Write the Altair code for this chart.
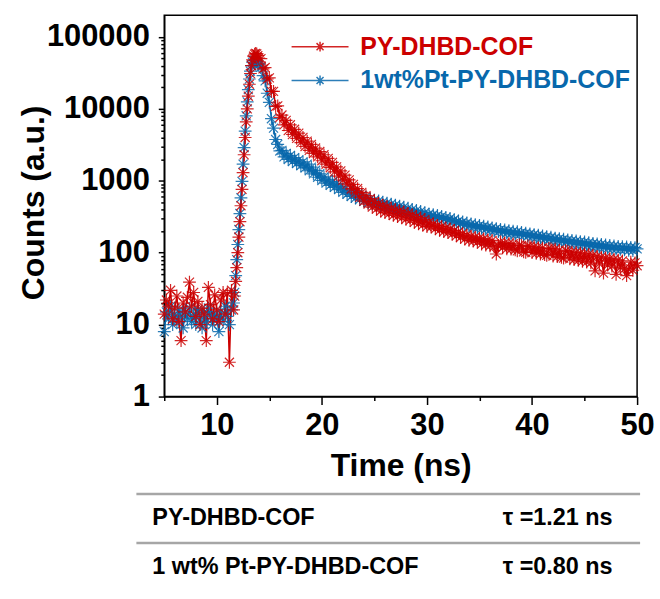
import altair as alt
import numpy as np
import pandas as pd

FONT = "Liberation Sans"
RED = "#CC0000"
BLUE = "#0868AC"

series_names = ["PY-DHBD-COF", "1wt%Pt-PY-DHBD-COF"]

# time grid (ns)
t_a = np.round(np.arange(5.0, 11.61, 0.2), 1)
t_b = np.round(np.arange(11.7, 14.01, 0.1), 1)
t_c = np.round(np.arange(14.2, 50.01, 0.2), 1)
time_ns = np.concatenate([t_a, t_b, t_c])

red_counts = [
    14, 22, 18, 30, 12, 17, 25, 11, 6, 20, 15, 24, 39, 18, 28, 13, 21, 10, 17, 14,
    6, 33, 19, 12, 26, 16, 11, 22, 28, 14, 27, 3, 30, 16,
    25, 40, 62, 100, 165, 270, 450, 760, 1300, 2300, 4000, 6600, 10000, 15000,
    22000, 31000, 40000, 48000, 54000, 57500, 59000, 58000, 55000, 51000,
    50000, 36000, 37500, 26000, 27000, 17500, 17500, 10800, 11000, 7600,
    8200, 6000, 6900, 5000, 6000, 4400, 5200, 3900, 4600, 3400,
    4000, 3000, 3550, 2650, 3200, 2400, 2850, 2150, 2550, 1900,
    2300, 1700, 2050, 1520, 1800, 1330, 1560, 1160, 1370, 1020,
    1200, 900, 1030, 770, 890, 680, 780, 590, 690, 520,
    620, 475, 565, 430, 515, 405, 485, 380, 455, 360,
    440, 350, 415, 330, 400, 318, 385, 305, 368, 292,
    352, 282, 338, 265, 318, 252, 305, 242, 290, 230,
    265, 228, 252, 215, 240, 205, 232, 196, 222, 190,
    215, 182, 204, 172, 193, 163, 184, 155, 176, 148,
    170, 145, 165, 140, 160, 132, 156, 128, 151, 125,
    148, 122, 96, 125, 141, 118, 137, 113, 134, 112,
    133, 110, 106, 128, 126, 103, 101, 124, 122, 100,
    121, 98, 118, 96, 117, 94, 92, 115, 113, 90,
    112, 88, 109, 86, 84, 107, 104, 82, 102, 80,
    101, 78, 99, 76, 97, 74, 95, 72, 92, 56,
    89, 70, 87, 52, 85, 67, 83, 65, 81, 50,
    79, 62, 77, 60, 48, 59, 74, 57, 72, 66,
]

blue_counts = [
    8, 15, 12, 18, 10, 14, 11, 16, 13, 9, 15, 12, 17, 11, 14, 10, 16, 12, 9, 15,
    11, 17, 13, 10, 14, 12, 8, 15, 11, 18, 13, 10, 16, 20,
    28, 48, 80, 130, 210, 350, 580, 980, 1700, 2900, 4900, 8000, 12500, 18500,
    26000, 33500, 40000, 44500, 47000, 47500, 46500, 45000, 43000, 41000,
    38000, 29000, 24500, 16500, 12300, 7300, 5400, 3750, 3200, 2600,
    2650, 2150, 2400, 1980, 2250, 1850, 2100, 1740, 1950, 1620,
    1830, 1510, 1700, 1380, 1550, 1250, 1400, 1120, 1250, 1010,
    1130, 930, 1050, 865, 980, 810, 915, 755, 840, 690,
    780, 650, 730, 605, 690, 575, 655, 550, 625, 520,
    590, 495, 560, 478, 540, 460, 525, 445, 505, 432,
    490, 420, 475, 405, 460, 395, 445, 380, 430, 366,
    415, 355, 400, 343, 388, 332, 375, 323, 362, 312,
    345, 312, 337, 305, 329, 298, 320, 290, 310, 281,
    300, 270, 289, 259, 277, 250, 268, 242, 259, 234,
    252, 228, 246, 222, 240, 218, 234, 212, 228, 206,
    222, 201, 216, 196, 211, 192, 207, 188, 203, 184,
    199, 180, 196, 177, 191, 174, 187, 170, 183, 166,
    179, 162, 175, 159, 172, 155, 167, 152, 164, 149,
    160, 146, 157, 143, 154, 140, 151, 137, 148, 134,
    146, 131, 143, 129, 141, 126, 138, 124, 135, 122,
    133, 119, 131, 117, 128, 115, 126, 113, 124, 112,
    122, 111, 121, 110, 120, 108, 119, 107, 118, 113,
]

x_ticks = [5, 10, 15, 20, 25, 30, 35, 40, 45, 50]
y_ticks = [m * 10 ** e for e in range(0, 5) for m in range(1, 10)] + [100000]

table_rows = ["PY-DHBD-COF", "1 wt% Pt-PY-DHBD-COF"]
table_tau = ["τ =1.21 ns", "τ =0.80 ns"]

df = pd.concat([
    pd.DataFrame({"t": time_ns, "counts": blue_counts, "series": series_names[1]}),
    pd.DataFrame({"t": time_ns, "counts": red_counts, "series": series_names[0]}),
], ignore_index=True)

STAR = "M-1,0L1,0M0,-1L0,1M-0.71,-0.71L0.71,0.71M-0.71,0.71L0.71,-0.71"
LEG_SYMBOL = "M-5.2,0L5.2,0M0,-0.9L0,0.9M-0.9,0L0.9,0M-0.64,-0.64L0.64,0.64M-0.64,0.64L0.64,-0.64"

x_enc = alt.X(
    "t:Q",
    scale=alt.Scale(domain=[5, 50], nice=False),
    axis=alt.Axis(
        title="Time (ns)", values=x_ticks, format="d",
        labelExpr="datum.value % 10 == 0 ? datum.label : ''",
        tickSize={"condition": {"test": "datum.value % 10 == 0", "value": 8}, "value": 4},
        labelPadding=6, labelFlush=False, labelOverlap=False,
        titleY=54, titleBaseline="top",
    ),
)
y_enc = alt.Y(
    "counts:Q",
    scale=alt.Scale(type="log", domain=[1, 200000], nice=False),
    axis=alt.Axis(
        title="Counts (a.u.)", values=y_ticks, format="d",
        labelExpr="indexof([1,10,100,1000,10000,100000], datum.value) >= 0 ? format(datum.value, 'd') : ''",
        tickSize={"condition": {"test": "indexof([1,10,100,1000,10000,100000], datum.value) >= 0", "value": 6}, "value": 3.5},
        labelPadding=9, labelFlush=False, labelOverlap=False,
        titleX=-131, titleY=188, titleBaseline="middle",
    ),
)
color_enc = alt.Color(
    "series:N",
    scale=alt.Scale(domain=series_names, range=[RED, BLUE]),
    legend=alt.Legend(
        title=None, orient="none", legendX=144, legendY=19,
        symbolType=LEG_SYMBOL, symbolSize=121, symbolStrokeWidth=1.5,
        labelFont=FONT, labelFontSize=25, labelFontWeight="bold",
        labelColor={"expr": "datum.label == 'PY-DHBD-COF' ? '#CC0000' : '#0868AC'"},
        labelOffset=28, rowPadding=8, padding=0, labelLimit=400,
    ),
)

base = alt.Chart(df)
lines = base.mark_line(strokeWidth=1.5).encode(x=x_enc, y=y_enc, color=color_enc)
points = base.mark_point(shape=STAR, size=165, filled=False, strokeWidth=1.2, opacity=0.85).encode(
    x=x_enc, y=y_enc, color=color_enc
)
main = alt.layer(lines, points).properties(
    width=475, height=383,
    view=alt.ViewBackground(stroke="black", strokeWidth=1.5),
)

# table below the plot
text_df = pd.DataFrame({
    "row": table_rows + table_rows,
    "col": ["name"] * 2 + ["tau"] * 2,
    "text": table_rows + table_tau,
})
rule_df = pd.DataFrame({"row": table_rows})
yscale_t = alt.Scale(domain=table_rows, paddingInner=0, paddingOuter=0)
rules = alt.Chart(rule_df).mark_rule(color="#A6A6A6", strokeWidth=2.5).encode(
    y=alt.Y("row:N", scale=yscale_t, axis=None, bandPosition=0),
    x=alt.value(-28), x2=alt.value(478),
)
texts = alt.Chart(text_df).mark_text(
    align="left", baseline="middle", font=FONT, fontSize=23.5, fontWeight="bold", color="black"
).encode(
    y=alt.Y("row:N", scale=yscale_t, axis=None, bandPosition=0.5),
    x=alt.X("col:N", scale=alt.Scale(type="point", domain=["name", "tau"], range=[-12, 340], padding=0), axis=None),
    text="text:N",
)
table = alt.layer(rules, texts).properties(width=475, height=98)

chart = alt.vconcat(main, table, spacing=98, bounds="flush").properties(
    padding={"left": 17, "top": 13, "right": 5, "bottom": 5}
).configure_view(stroke="transparent").configure_axis(
    labelFont=FONT, labelFontSize=31, labelFontWeight="bold", labelColor="black",
    titleFont=FONT, titleFontSize=32, titleFontWeight="bold", titleColor="black",
    domainColor="black", domainWidth=1.5, tickColor="black", tickWidth=1.5, grid=False,
)

chart.save("out.html", embed_options={"renderer": "svg", "actions": False})
